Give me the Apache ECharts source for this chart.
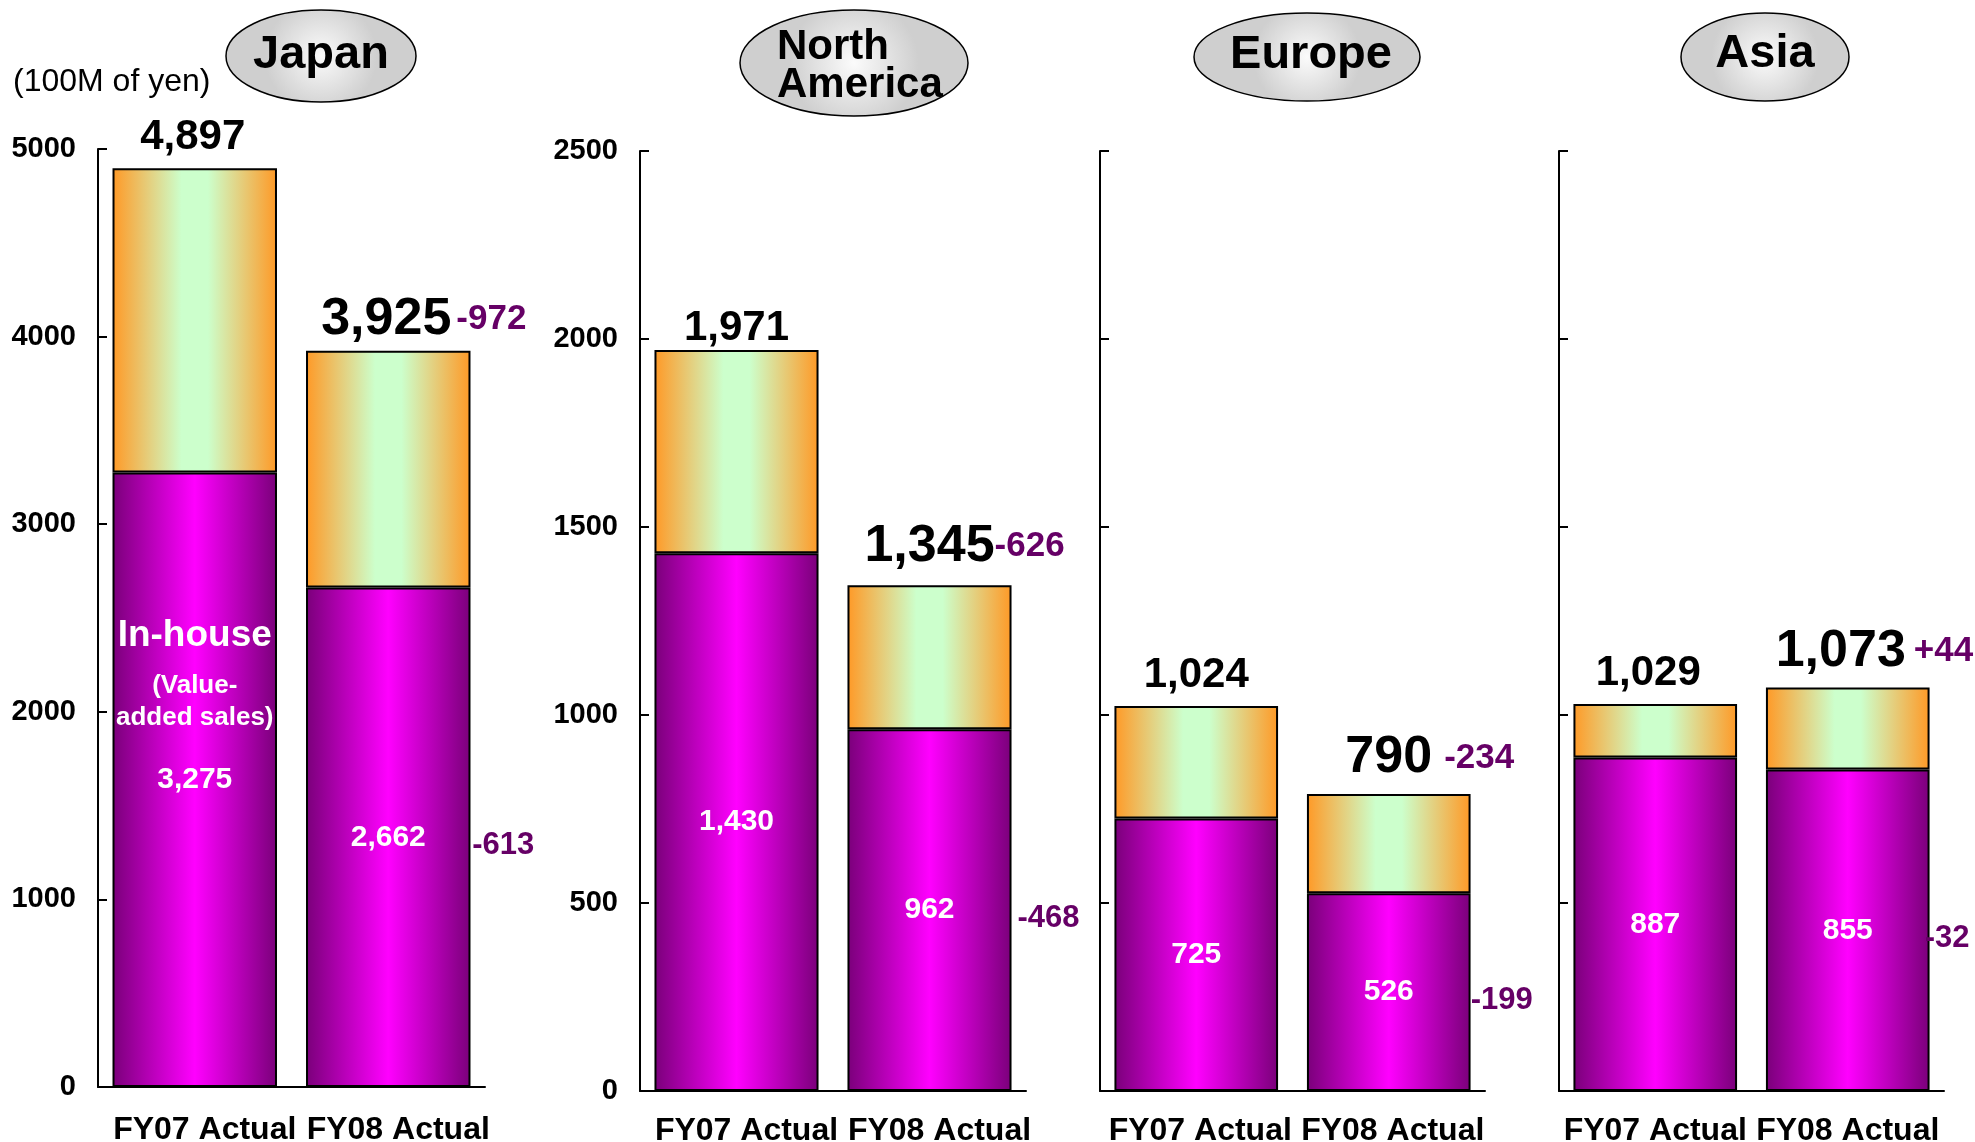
<!DOCTYPE html>
<html>
<head>
<meta charset="utf-8">
<script src="https://cdn.jsdelivr.net/npm/echarts@6/dist/echarts.min.js"></script>
<style>
  html, body { margin: 0; padding: 0; background: #ffffff; }
  #chart { width: 1975px; height: 1142px; }
</style>
</head>
<body>
<div id="chart"></div>
<script>
// Sales by region, FY07 vs FY08 actual (100M of yen)
const regions = ['Japan', 'North America', 'Europe', 'Asia'];
const periods = ['FY07 Actual', 'FY08 Actual'];

// Total sales per region [FY07, FY08]
const salesJapan = [4897, 3925];
const salesNorthAmerica = [1971, 1345];
const salesEurope = [1024, 790];
const salesAsia = [1029, 1073];

// In-house (value-added) sales per region [FY07, FY08]
const inHouseJapan = [3275, 2662];
const inHouseNorthAmerica = [1430, 962];
const inHouseEurope = [725, 526];
const inHouseAsia = [887, 855];

// Value axis range per region
const axisMax = [5000, 2500, 2500, 2500];
const axisStep = [1000, 500, 500, 500];

const sales = [salesJapan, salesNorthAmerica, salesEurope, salesAsia];
const inHouse = [inHouseJapan, inHouseNorthAmerica, inHouseEurope, inHouseAsia];

const FONT = '"Liberation Sans", Arial, Helvetica, sans-serif';
const DIFF_COLOR = '#660066';

// Panel placement and label tweaks
const panels = [
  { left: 98,   top: 149, width: 387, height: 938, yLabels: true,  lowDx: 84, gap: 5,  totalDx: -2, dy07: 0,  dy08: 5,  xPad: 20, xMargin: 27 },
  { left: 640,  top: 151, width: 386, height: 940, yLabels: true,  lowDx: 88, gap: 0,  totalDx: 0,  dy07: 10, dy08: -3, xPad: 20, xMargin: 24 },
  { left: 1100, top: 151, width: 385, height: 940, yLabels: false, lowDx: 82, gap: 12, totalDx: 0,  dy07: 0,  dy08: 0,  xPad: 8,  xMargin: 24 },
  { left: 1559, top: 151, width: 385, height: 940, yLabels: false, lowDx: 77, gap: 8,  totalDx: -7, dy07: 0,  dy08: 0,  xPad: 0,  xMargin: 24 }
];

const fmt = v => v.toLocaleString('en-US');
const signed = v => (v > 0 ? '+' : '') + String(v);

const inHouseFill = new echarts.graphic.LinearGradient(0, 0, 1, 0, [
  { offset: 0, color: '#7a007a' },
  { offset: 0.5, color: '#ff00ff' },
  { offset: 1, color: '#7a007a' }
]);
const otherFill = new echarts.graphic.LinearGradient(0, 0, 1, 0, [
  { offset: 0, color: '#ff9926' },
  { offset: 0.42, color: '#ccffcc' },
  { offset: 0.58, color: '#ccffcc' },
  { offset: 1, color: '#ff9926' }
]);
const badgeFill = new echarts.graphic.RadialGradient(0.5, 0.5, 0.6, [
  { offset: 0, color: '#fbfbfb' },
  { offset: 1, color: '#cfcfcf' }
]);

const grid = [], xAxis = [], yAxis = [], series = [];

panels.forEach((p, i) => {
  grid.push({ left: p.left, top: p.top, width: p.width, height: p.height, outerBoundsMode: 'none' });

  xAxis.push({
    gridIndex: i, type: 'category', data: periods,
    axisLine: { lineStyle: { color: '#000', width: 2 } },
    axisTick: { inside: true, length: 9, lineStyle: { color: '#000', width: 2 } },
    axisLabel: {
      interval: 0, color: '#000', fontFamily: FONT, fontWeight: 'bold', fontSize: 32, margin: p.xMargin,
      padding: [0, 0, 0, p.xPad]
    }
  });

  yAxis.push({
    gridIndex: i, type: 'value', min: 0, max: axisMax[i], interval: axisStep[i],
    axisLine: { show: true, lineStyle: { color: '#000', width: 2 } },
    axisTick: { show: true, inside: true, length: 9, lineStyle: { color: '#000', width: 2 } },
    splitLine: { show: false },
    axisLabel: {
      show: p.yLabels, color: '#000', fontFamily: FONT, fontWeight: 'bold', fontSize: 29, margin: 22,
      formatter: v => String(v)
    }
  });

  // In-house portion (lower segment)
  series.push({
    name: 'In-house', type: 'bar', xAxisIndex: i, yAxisIndex: i, stack: 'region' + i,
    barCategoryGap: '15%',
    data: inHouse[i].map((v, k) => (i === 0 && k === 0) ? { value: v, label: { offset: [0, -66] } } : v),
    itemStyle: { color: inHouseFill, borderColor: '#000', borderWidth: 2 },
    label: {
      show: true, position: 'inside', color: '#fff',
      fontFamily: FONT, fontWeight: 'bold', fontSize: 30,
      formatter: prm => (i === 0 && prm.dataIndex === 0)
        ? '{h|In-house}\n{s|(Value-}\n{s|added sales)}\n{v|' + fmt(prm.value) + '}'
        : fmt(prm.value),
      rich: {
        h: { color: '#fff', fontFamily: FONT, fontWeight: 'bold', fontSize: 37, lineHeight: 68 },
        s: { color: '#fff', fontFamily: FONT, fontWeight: 'bold', fontSize: 26, lineHeight: 32 },
        v: { color: '#fff', fontFamily: FONT, fontWeight: 'bold', fontSize: 30, lineHeight: 92 }
      }
    }
  });

  // Remaining sales (upper segment); its label shows the total
  series.push({
    name: 'Other', type: 'bar', xAxisIndex: i, yAxisIndex: i, stack: 'region' + i,
    barCategoryGap: '15%',
    data: sales[i].map((s, k) => ({
      value: s - inHouse[i][k],
      label: { offset: [p.totalDx, k === 0 ? p.dy07 : p.dy08] }
    })),
    itemStyle: { color: otherFill, borderColor: '#000', borderWidth: 2 },
    label: {
      show: true, position: 'top', distance: 10,
      formatter: prm => {
        const k = prm.dataIndex;
        const total = sales[i][k];
        if (k === 0) return '{a|' + fmt(total) + '}';
        const d = signed(total - sales[i][0]);
        return '{p|' + d + '}{b|' + fmt(total) + '}{d|' + d + '}';
      },
      rich: {
        a: { color: '#000', fontFamily: FONT, fontWeight: 'bold', fontSize: 42, lineHeight: 42 },
        b: { color: '#000', fontFamily: FONT, fontWeight: 'bold', fontSize: 52, lineHeight: 52 },
        p: { color: 'rgba(0,0,0,0)', fontFamily: FONT, fontWeight: 'bold', fontSize: 35, lineHeight: 52, padding: [0, p.gap, 0, 0] },
        d: { color: DIFF_COLOR, fontFamily: FONT, fontWeight: 'bold', fontSize: 35, lineHeight: 52, padding: [0, 0, 0, p.gap] }
      }
    }
  });

  // Change in in-house sales, beside the FY08 bar
  series.push({
    name: 'In-house change', type: 'scatter', xAxisIndex: i, yAxisIndex: i,
    symbolSize: 0, silent: true,
    itemStyle: { color: 'transparent', opacity: 1 },
    data: [[periods[1], inHouse[i][1] / 2]],
    label: {
      show: true, position: 'inside', align: 'left', offset: [p.lowDx, 8], opacity: 1,
      color: DIFF_COLOR, fontFamily: FONT, fontWeight: 'bold', fontSize: 31,
      formatter: () => signed(inHouse[i][1] - inHouse[i][0])
    }
  });
});

// Region badges and unit note
const badges = [
  { cx: 321, cy: 56, rx: 95, ry: 46 },
  { cx: 854, cy: 63, rx: 114, ry: 53 },
  { cx: 1307, cy: 57, rx: 113, ry: 44 },
  { cx: 1765, cy: 57, rx: 84, ry: 44 }
];
const graphic = [];
badges.forEach(b => {
  graphic.push({
    type: 'ellipse', shape: { cx: b.cx, cy: b.cy, rx: b.rx, ry: b.ry },
    style: { fill: badgeFill, stroke: '#000', lineWidth: 1.5 }, z: 10
  });
});
graphic.push({ type: 'text', x: 321, y: 55, z: 11,
  style: { text: regions[0], font: 'bold 47px ' + FONT, fill: '#000', align: 'center', verticalAlign: 'middle' } });
graphic.push({ type: 'text', x: 777, y: 47, z: 11,
  style: { text: 'North', font: 'bold 42px ' + FONT, fill: '#000', align: 'left', verticalAlign: 'middle' } });
graphic.push({ type: 'text', x: 777, y: 85, z: 11,
  style: { text: 'America', font: 'bold 42px ' + FONT, fill: '#000', align: 'left', verticalAlign: 'middle' } });
graphic.push({ type: 'text', x: 1311, y: 55, z: 11,
  style: { text: regions[2], font: 'bold 47px ' + FONT, fill: '#000', align: 'center', verticalAlign: 'middle' } });
graphic.push({ type: 'text', x: 1765, y: 54, z: 11,
  style: { text: regions[3], font: 'bold 47px ' + FONT, fill: '#000', align: 'center', verticalAlign: 'middle' } });
graphic.push({ type: 'text', x: 13, y: 82, z: 11,
  style: { text: '(100M of yen)', font: '32px ' + FONT, fill: '#000', align: 'left', verticalAlign: 'middle' } });

const chart = echarts.init(document.getElementById('chart'));
chart.setOption({
  animation: false,
  backgroundColor: '#ffffff',
  grid, xAxis, yAxis, series, graphic
});
</script>
</body>
</html>
